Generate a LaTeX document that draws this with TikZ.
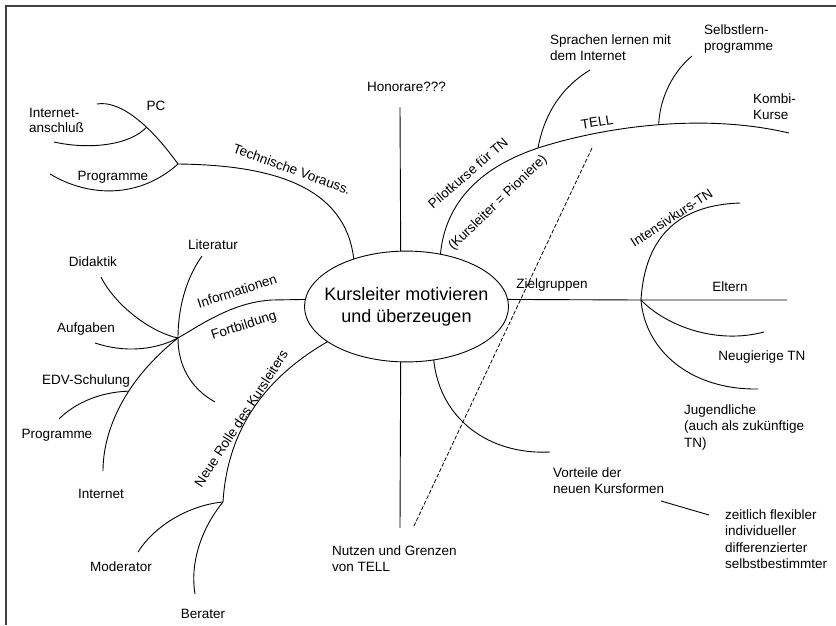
\documentclass[tikz,border=0pt]{standalone}
\usepackage{fontspec}
\setmainfont{Liberation Sans}
\usetikzlibrary{shapes.geometric}
\begin{document}
\begin{tikzpicture}[x=1pt,y=-1pt,
  lbl/.style={font=\fontsize{13.5}{16.3}\selectfont, inner sep=0pt, text=black},
  multi/.style={lbl, align=left, anchor=north west},
  one/.style={lbl, anchor=base},
  rot/.style={lbl, anchor=center},
  branch/.style={draw=black, line width=0.9pt},
  frameline/.style={draw=black!75, line width=1.5pt},
  dashline/.style={draw=black, line width=0.8pt, dash pattern=on 4pt off 2pt}
]
\useasboundingbox (0,0) rectangle (836,625);
% frame
\draw[frameline] (5,6) -- (836,6);
\draw[frameline] (6,6) -- (6,625);

% central node
\node[draw, line width=0.9pt, ellipse, inner xsep=-9.9pt, inner ysep=19.8pt, outer sep=0pt,
      align=center, font=\fontsize{18}{22}\selectfont] (c) at (406.5,306.5)
      {Kursleiter motivieren\\und überzeugen};

% free ends / junctions
\coordinate (honend) at (400,107);
\coordinate (nutzend) at (400,528);
\coordinate (tvj) at (178,164);
\coordinate (pcend) at (97,104);
\coordinate (iaend) at (54,142);
\coordinate (progtend) at (50,174);
\coordinate (ifm) at (272,300);
\coordinate (ifj) at (178,338);
\coordinate (litend) at (202,256);
\coordinate (litlow) at (215,402);
\coordinate (didend) at (101,277);
\coordinate (aufend) at (95,343);
\coordinate (intend) at (103,471);
\coordinate (proglend) at (59,419);
\coordinate (nrj) at (223,502);
\coordinate (modend) at (138,552);
\coordinate (berend) at (195,594);
\coordinate (tellj) at (538,148);
\coordinate (kombiend) at (789,133);
\coordinate (sprend) at (590,70);
\coordinate (selend) at (692,56);
\coordinate (zj) at (641,300);
\coordinate (elend) at (787,300);
\coordinate (intkend) at (740,203);
\coordinate (neuend) at (764,332);
\coordinate (jugend) at (758,389);
\coordinate (vorend) at (550,452);
\coordinate (zl1) at (661,501);
\coordinate (zl2) at (709,515);
\coordinate (d1) at (592,148);
\coordinate (d2) at (413,528);

% vertical lines
\draw[branch] (c.96) -- (honend);
\draw[branch] (c.264) -- (nutzend);

% Technische Vorauss.
\draw[branch] (c.138) .. controls (345,185) and (270,165) .. (tvj);
\draw[branch] (tvj) .. controls (150,125) and (120,100) .. (pcend) coordinate[pos=0.37] (iaj);
\draw[branch] (iaj) .. controls (130,145) and (90,150) .. (iaend);
\draw[branch] (tvj) .. controls (140,198) and (90,198) .. (progtend);

% Informationen / Fortbildung
\draw[branch] (c.176) -- (ifm) .. controls (235,302) and (205,322) .. (ifj);
\draw[branch] (litend) .. controls (185,280) and (178,310) .. (ifj)
              .. controls (178,365) and (190,388) .. (litlow);
\draw[branch] (didend) .. controls (115,305) and (150,332) .. (ifj);
\draw[branch] (aufend) .. controls (125,353) and (155,350) .. (ifj);
\draw[branch] (ifj) .. controls (125,380) and (103,430) .. (intend) coordinate[pos=0.4] (edvj);
\draw[branch] (edvj) .. controls (100,392) and (75,403) .. (proglend);

% Neue Rolle des Kursleiters
\draw[branch] (c.204) .. controls (275,372) and (228,420) .. (nrj);
\draw[branch] (nrj) .. controls (190,505) and (155,525) .. (modend);
\draw[branch] (nrj) .. controls (200,530) and (190,565) .. (berend);

% Pilotkurse / TELL
\draw[branch] (c.57) .. controls (446,195) and (490,164) .. (tellj)
              .. controls (600,128) and (700,112) .. (kombiend) coordinate[pos=0.52] (selj);
\draw[branch] (tellj) .. controls (545,110) and (565,85) .. (sprend);
\draw[branch] (selj) .. controls (660,95) and (675,70) .. (selend);

% Zielgruppen
\draw[branch] (c.4) -- (zj) -- (elend);
\draw[branch] (zj) .. controls (645,235) and (680,205) .. (intkend);
\draw[branch] (zj) .. controls (665,325) and (715,345) .. (neuend);
\draw[branch] (zj) .. controls (645,350) and (690,390) .. (jugend);

% Vorteile
\draw[branch] (c.297) .. controls (440,420) and (490,455) .. (vorend);
\draw[branch] (zl1) -- (zl2);

% dashed line
\draw[dashline] (d1) -- (d2);

% labels
\node[one] (thon) at (406.5,91) {Honorare???};
\node[one] (tpc) at (156,110) {PC};
\node[multi, font=\fontsize{13.5}{15}\selectfont] (tia) at (29,107.7) {Internet-\\anschluß};
\node[one] (tprogt) at (113,180) {Programme};
\node[rot, rotate=-20] (ttv) at (292,169) {Technische Vorauss.};
\node[one] (tlit) at (213,249) {Literatur};
\node[one] (tdid) at (93,266) {Didaktik};
\node[rot, rotate=18] (tinf) at (237,291) {Informationen};
\node[rot, rotate=18] (tfort) at (244,326) {Fortbildung};
\node[one] (tauf) at (86,332) {Aufgaben};
\node[one] (tedv) at (86,384) {EDV-Schulung};
\node[one] (tprogl) at (57,438) {Programme};
\node[one] (tint) at (101,498) {Internet};
\node[rot, rotate=57] (tnr) at (241,418.5) {Neue Rolle des Kursleiters};
\node[one] (tmod) at (121,571) {Moderator};
\node[one] (tber) at (203,618) {Berater};
\node[multi] (tnutz) at (332,545.7) {Nutzen und Grenzen\\von TELL};
\node[multi] (tvor) at (553,467.7) {Vorteile der\\neuen Kursformen};
\node[multi] (tzeit) at (725,509.7) {zeitlich flexibler\\individueller\\differenzierter\\selbstbestimmter};
\node[multi] (tjug) at (684,404.7) {Jugendliche\\(auch als zukünftige\\TN)};
\node[one] (tneu) at (762,360) {Neugierige TN};
\node[one] (telt) at (730,291) {Eltern};
\node[rot, rotate=33] (tintk) at (671.5,217.5) {Intensivkurs-TN};
\node[one] (tziel) at (552,288) {Zielgruppen};
\node[rot, rotate=41] (tpil) at (468,173) {Pilotkurse für TN};
\node[rot, rotate=44] (tkp) at (498,203) {(Kursleiter = Pioniere)};
\node[rot, rotate=9] (ttell) at (597,122) {TELL};
\node[multi] (tspr) at (550,34.7) {Sprachen lernen mit\\dem Internet};
\node[multi] (tsel) at (704,24.7) {Selbstlern-\\programme};
\node[multi] (tkombi) at (753,93.7) {Kombi-\\Kurse};
\end{tikzpicture}
\end{document}
